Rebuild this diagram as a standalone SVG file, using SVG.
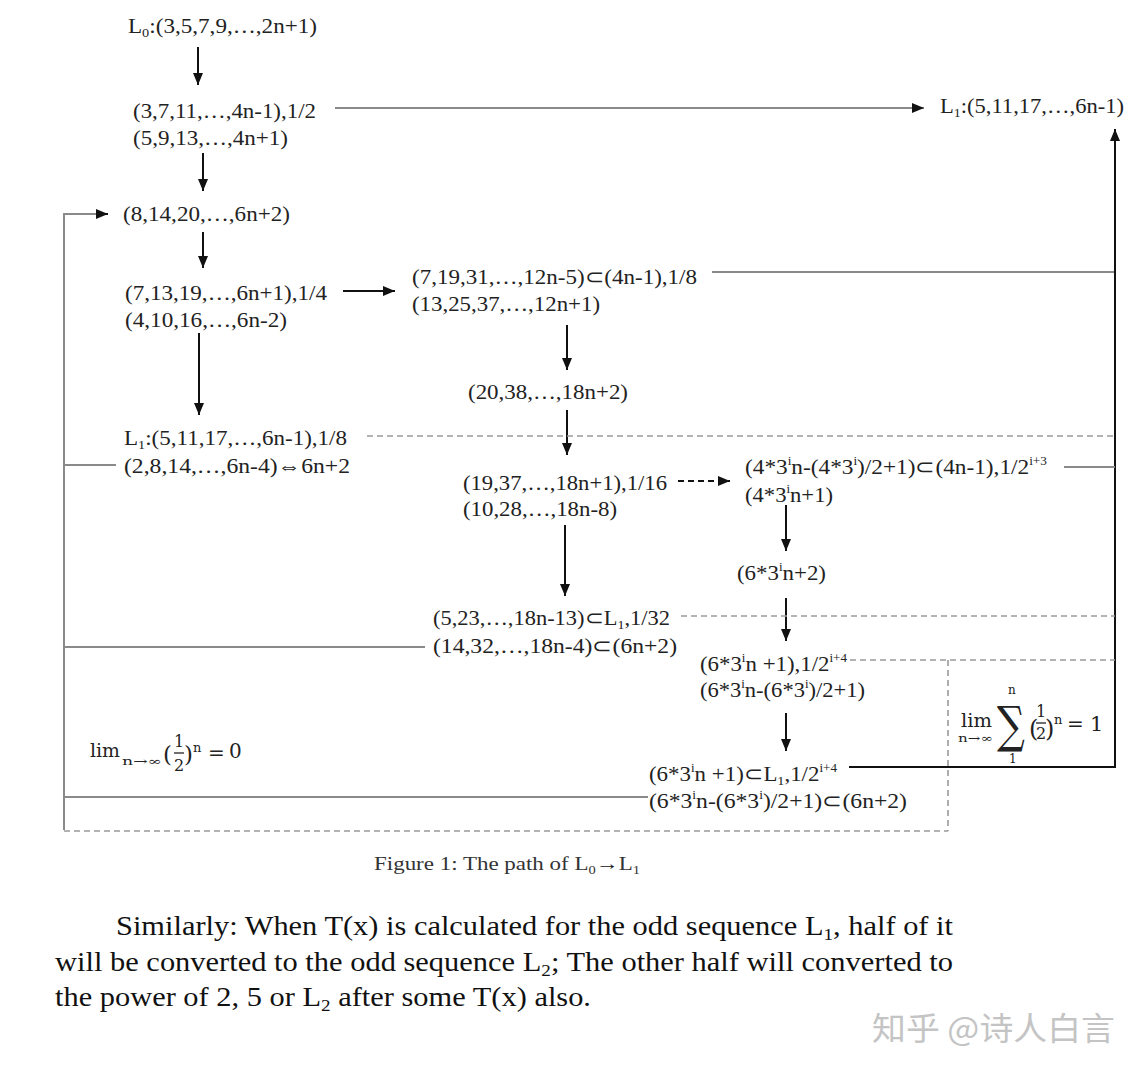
<svg xmlns="http://www.w3.org/2000/svg" width="1145" height="1073" viewBox="0 0 1145 1073">
<style>
.t{font-family:"Liberation Serif","Times New Roman",serif;font-size:21px;fill:#222}
.sb{font-size:13px}
.sp{font-size:12px}
.m{font-family:"DejaVu Serif","Liberation Serif",serif;fill:#222}
.g{stroke:#8a8a8a;stroke-width:2;fill:none}
.d{stroke:#9a9a9a;stroke-width:1.6;stroke-dasharray:6 4;fill:none}
.k{stroke:#111;stroke-width:2;fill:none}
.cap{font-family:"Liberation Serif","Times New Roman",serif;font-size:19px;fill:#333}
.p{font-family:"Liberation Serif","Times New Roman",serif;font-size:27px;fill:#111}
.wm{font-family:"Noto Sans CJK SC","Noto Sans",sans-serif;font-size:32px;fill:#c4c4c4}
</style>
<defs>
<marker id="ah" markerUnits="userSpaceOnUse" markerWidth="13" markerHeight="11" refX="12" refY="5" orient="auto" viewBox="0 0 13 11">
<path d="M0,0 L12,5 L0,10 z" fill="#111"/>
</marker>
</defs>
<rect width="1145" height="1073" fill="#fff"/>

<g id="connectors">
<line class="k" x1="198" y1="47" x2="198" y2="85" marker-end="url(#ah)"/>
<line class="g" x1="335" y1="108" x2="924" y2="108" marker-end="url(#ah)"/>
<line class="k" x1="203" y1="153" x2="203" y2="191" marker-end="url(#ah)"/>
<polyline class="g" points="64,830 64,214 106,214"/>
<line class="k" x1="98" y1="214" x2="108" y2="214" marker-end="url(#ah)"/>
<line class="k" x1="203" y1="232" x2="203" y2="268" marker-end="url(#ah)"/>
<line class="k" x1="343" y1="291" x2="395" y2="291" marker-end="url(#ah)"/>
<line class="g" x1="712" y1="272" x2="1115" y2="272"/>
<line class="k" x1="1115" y1="768" x2="1115" y2="129" marker-end="url(#ah)"/>
<line class="k" x1="199" y1="333" x2="199" y2="415" marker-end="url(#ah)"/>
<line class="k" x1="567" y1="325" x2="567" y2="370" marker-end="url(#ah)"/>
<line class="k" x1="567" y1="410" x2="567" y2="455" marker-end="url(#ah)"/>
<line class="d" x1="367" y1="436" x2="1115" y2="436"/>
<line class="g" x1="64" y1="465" x2="116" y2="465"/>
<line class="g" x1="1064" y1="467" x2="1115" y2="467"/>
<line class="k" x1="678" y1="481" x2="730" y2="481" stroke-dasharray="6 4" marker-end="url(#ah)"/>
<line class="k" x1="565" y1="525" x2="565" y2="596" marker-end="url(#ah)"/>
<line class="k" x1="786" y1="505" x2="786" y2="551" marker-end="url(#ah)"/>
<line class="k" x1="786" y1="598" x2="786" y2="641" marker-end="url(#ah)"/>
<line class="d" x1="681" y1="616" x2="1115" y2="616"/>
<line class="g" x1="64" y1="647" x2="425" y2="647"/>
<line class="d" x1="850" y1="660" x2="1115" y2="660"/>
<line class="d" x1="948" y1="660" x2="948" y2="831"/>
<line class="k" x1="786" y1="713" x2="786" y2="751" marker-end="url(#ah)"/>
<line class="k" x1="849" y1="767" x2="1115" y2="767"/>
<line class="g" x1="64" y1="797" x2="648" y2="797"/>
<line class="d" x1="64" y1="831" x2="948" y2="831"/>
</g>

<g id="n_L0"><text class="t" x="128" y="33" textLength="189" lengthAdjust="spacingAndGlyphs">L<tspan class="sb" dy="4">0</tspan><tspan dy="-4">:(3,5,7,9,…,2n+1)</tspan></text></g>

<g id="n_4n">
<text class="t" x="133" y="118" textLength="183" lengthAdjust="spacingAndGlyphs">(3,7,11,…,4n-1),1/2</text>
<text class="t" x="133" y="145" textLength="155" lengthAdjust="spacingAndGlyphs">(5,9,13,…,4n+1)</text>
</g>

<g id="n_L1top"><text class="t" x="940" y="113" textLength="184" lengthAdjust="spacingAndGlyphs">L<tspan class="sb" dy="4">1</tspan><tspan dy="-4">:(5,11,17,…,6n-1)</tspan></text></g>

<g id="n_6n2"><text class="t" x="123" y="221" textLength="167" lengthAdjust="spacingAndGlyphs">(8,14,20,…,6n+2)</text></g>

<g id="n_6n1">
<text class="t" x="125" y="300" textLength="202" lengthAdjust="spacingAndGlyphs">(7,13,19,…,6n+1),1/4</text>
<text class="t" x="125" y="327" textLength="162" lengthAdjust="spacingAndGlyphs">(4,10,16,…,6n-2)</text>
</g>

<g id="n_12n">
<text class="t" x="412" y="284" textLength="285" lengthAdjust="spacingAndGlyphs">(7,19,31,…,12n-5)⊂(4n-1),1/8</text>
<text class="t" x="412" y="311" textLength="188" lengthAdjust="spacingAndGlyphs">(13,25,37,…,12n+1)</text>
</g>

<g id="n_18n2"><text class="t" x="468" y="399" textLength="160" lengthAdjust="spacingAndGlyphs">(20,38,…,18n+2)</text></g>

<g id="n_L1_8">
<text class="t" x="124" y="445" textLength="223" lengthAdjust="spacingAndGlyphs">L<tspan class="sb" dy="4">1</tspan><tspan dy="-4">:(5,11,17,…,6n-1),1/8</tspan></text>
<text class="t" x="124" y="473" textLength="226" lengthAdjust="spacingAndGlyphs">(2,8,14,…,6n-4)⇔6n+2</text>
</g>

<g id="n_18n1">
<text class="t" x="463" y="490" textLength="204" lengthAdjust="spacingAndGlyphs">(19,37,…,18n+1),1/16</text>
<text class="t" x="463" y="516" textLength="154" lengthAdjust="spacingAndGlyphs">(10,28,…,18n-8)</text>
</g>

<g id="n_4x3i">
<text class="t" x="745" y="474" textLength="302" lengthAdjust="spacingAndGlyphs">(4*3<tspan class="sp" dy="-9">i</tspan><tspan dy="9">n-(4*3</tspan><tspan class="sp" dy="-9">i</tspan><tspan dy="9">)/2+1)⊂(4n-1),1/2</tspan><tspan class="sp" dy="-9">i+3</tspan></text>
<text class="t" x="745" y="502" textLength="88" lengthAdjust="spacingAndGlyphs">(4*3<tspan class="sp" dy="-9">i</tspan><tspan dy="9">n+1)</tspan></text>
</g>

<g id="n_6x3i2"><text class="t" x="737" y="580" textLength="89" lengthAdjust="spacingAndGlyphs">(6*3<tspan class="sp" dy="-9">i</tspan><tspan dy="9">n+2)</tspan></text></g>

<g id="n_18n13">
<text class="t" x="433" y="625" textLength="237" lengthAdjust="spacingAndGlyphs">(5,23,…,18n-13)⊂L<tspan class="sb" dy="4">1</tspan><tspan dy="-4">,1/32</tspan></text>
<text class="t" x="433" y="653" textLength="244" lengthAdjust="spacingAndGlyphs">(14,32,…,18n-4)⊂(6n+2)</text>
</g>

<g id="n_6x3i1">
<text class="t" x="700" y="671" textLength="147" lengthAdjust="spacingAndGlyphs">(6*3<tspan class="sp" dy="-9">i</tspan><tspan dy="9">n +1),1/2</tspan><tspan class="sp" dy="-9">i+4</tspan></text>
<text class="t" x="700" y="697" textLength="165" lengthAdjust="spacingAndGlyphs">(6*3<tspan class="sp" dy="-9">i</tspan><tspan dy="9">n-(6*3</tspan><tspan class="sp" dy="-9">i</tspan><tspan dy="9">)/2+1)</tspan></text>
</g>

<g id="n_6x3iL1">
<text class="t" x="649" y="781" textLength="188" lengthAdjust="spacingAndGlyphs">(6*3<tspan class="sp" dy="-9">i</tspan><tspan dy="9">n +1)⊂L</tspan><tspan class="sb" dy="4">1</tspan><tspan dy="-4">,1/2</tspan><tspan class="sp" dy="-9">i+4</tspan></text>
<text class="t" x="649" y="808" textLength="258" lengthAdjust="spacingAndGlyphs">(6*3<tspan class="sp" dy="-9">i</tspan><tspan dy="9">n-(6*3</tspan><tspan class="sp" dy="-9">i</tspan><tspan dy="9">)/2+1)⊂(6n+2)</tspan></text>
</g>

<g id="lim0">
<text class="m" x="90" y="757" font-size="18" textLength="30" lengthAdjust="spacingAndGlyphs">lim</text>
<text class="m" x="122" y="765" font-size="11" textLength="40" lengthAdjust="spacingAndGlyphs">n→∞</text>
<text class="m" x="163" y="762" font-size="23">(</text>
<text class="m" x="174" y="747" font-size="16">1</text>
<line x1="174" y1="753" x2="184" y2="753" stroke="#222" stroke-width="1.3"/>
<text class="m" x="174" y="771" font-size="16">2</text>
<text class="m" x="184" y="762" font-size="23">)</text>
<text class="m" x="193" y="752" font-size="13">n</text>
<text class="m" x="208" y="760" font-size="20">=</text>
<text class="m" x="229" y="758" font-size="20">0</text>
</g>

<g id="limsum">
<text class="m" x="961" y="727" font-size="18" textLength="31" lengthAdjust="spacingAndGlyphs">lim</text>
<text class="m" x="958" y="742" font-size="11" textLength="35" lengthAdjust="spacingAndGlyphs">n→∞</text>
<text class="m" x="1008" y="694" font-size="12">n</text>
<text class="m" font-size="50" transform="translate(997,742) scale(0.78,1)">∑</text>
<text class="m" x="1009" y="763" font-size="12">1</text>
<text class="m" x="1029" y="737" font-size="24">(</text>
<text class="m" x="1036" y="717" font-size="16">1</text>
<line x1="1036" y1="723" x2="1046" y2="723" stroke="#222" stroke-width="1.3"/>
<text class="m" x="1036" y="739" font-size="16">2</text>
<text class="m" x="1045" y="737" font-size="24">)</text>
<text class="m" x="1054" y="724" font-size="13">n</text>
<text class="m" x="1067" y="731" font-size="20">=</text>
<text class="m" x="1090" y="731" font-size="21">1</text>
</g>

<g id="caption"><text class="cap" x="374" y="870" textLength="266" lengthAdjust="spacingAndGlyphs">Figure 1: The path of L<tspan font-size="12" dy="4">0</tspan><tspan dy="-4" font-weight="bold" fill="#111">→</tspan><tspan>L</tspan><tspan font-size="12" dy="4">1</tspan></text></g>

<g id="paragraph">
<text class="p" x="116" y="935" textLength="837" lengthAdjust="spacingAndGlyphs">Similarly: When T(x) is calculated for the odd sequence L<tspan font-size="17" dy="5">1</tspan><tspan dy="-5">, half of it</tspan></text>
<text class="p" x="55" y="971" textLength="898" lengthAdjust="spacingAndGlyphs">will be converted to the odd sequence L<tspan font-size="17" dy="5">2</tspan><tspan dy="-5">; The other half will converted to</tspan></text>
<text class="p" x="55" y="1006" textLength="536" lengthAdjust="spacingAndGlyphs">the power of 2, 5 or L<tspan font-size="17" dy="5">2</tspan><tspan dy="-5"> after some T(x) also.</tspan></text>
</g>

<g id="watermark"><text class="wm" x="872" y="1040" textLength="243" lengthAdjust="spacingAndGlyphs">知乎 @诗人白言</text></g>
</svg>
